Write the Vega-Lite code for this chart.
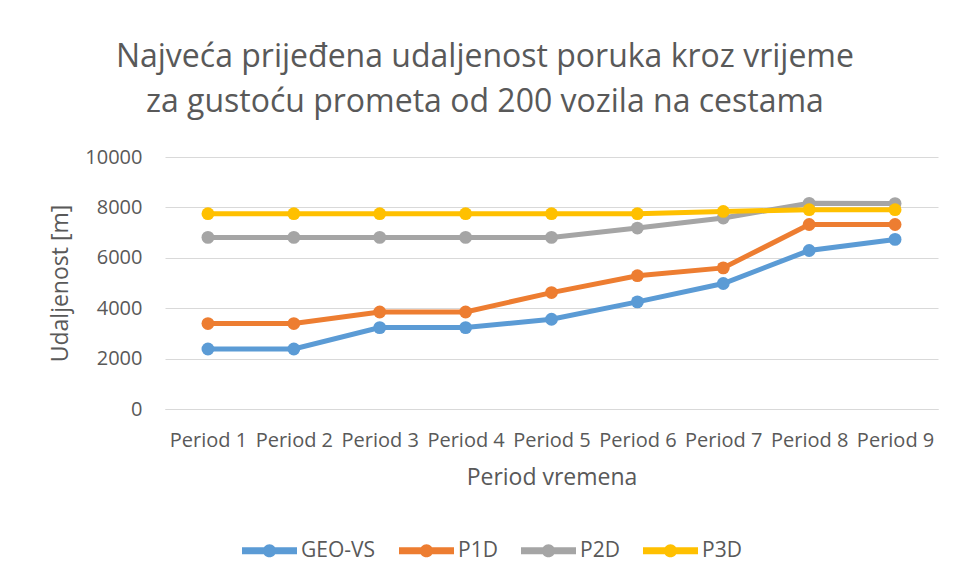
{
  "$schema": "https://vega.github.io/schema/vega-lite/v6.json",
  "width": 773,
  "height": 252,
  "autosize": {"type": "none"},
  "padding": {"left": 165, "top": 157, "right": 18, "bottom": 171},
  "background": "white",
  "title": {
    "text": ["Najveća prijeđena udaljenost poruka kroz vrijeme", "za gustoću prometa od 200 vozila na cestama"],
    "font": "Open Sans",
    "fontSize": 32,
    "fontWeight": 400,
    "color": "#595959",
    "lineHeight": 45,
    "anchor": "middle",
    "frame": "bounds",
    "offset": 28,
    "dx": -9
  },
  "data": {
    "values": [
      {"period": "Period 1", "series": "GEO-VS", "value": 2380},
      {"period": "Period 2", "series": "GEO-VS", "value": 2380},
      {"period": "Period 3", "series": "GEO-VS", "value": 3230},
      {"period": "Period 4", "series": "GEO-VS", "value": 3230},
      {"period": "Period 5", "series": "GEO-VS", "value": 3560},
      {"period": "Period 6", "series": "GEO-VS", "value": 4250},
      {"period": "Period 7", "series": "GEO-VS", "value": 4980},
      {"period": "Period 8", "series": "GEO-VS", "value": 6290},
      {"period": "Period 9", "series": "GEO-VS", "value": 6730},
      {"period": "Period 1", "series": "P1D", "value": 3390},
      {"period": "Period 2", "series": "P1D", "value": 3390},
      {"period": "Period 3", "series": "P1D", "value": 3850},
      {"period": "Period 4", "series": "P1D", "value": 3850},
      {"period": "Period 5", "series": "P1D", "value": 4620},
      {"period": "Period 6", "series": "P1D", "value": 5290},
      {"period": "Period 7", "series": "P1D", "value": 5600},
      {"period": "Period 8", "series": "P1D", "value": 7320},
      {"period": "Period 9", "series": "P1D", "value": 7320},
      {"period": "Period 1", "series": "P2D", "value": 6810},
      {"period": "Period 2", "series": "P2D", "value": 6810},
      {"period": "Period 3", "series": "P2D", "value": 6810},
      {"period": "Period 4", "series": "P2D", "value": 6810},
      {"period": "Period 5", "series": "P2D", "value": 6810},
      {"period": "Period 6", "series": "P2D", "value": 7180},
      {"period": "Period 7", "series": "P2D", "value": 7580},
      {"period": "Period 8", "series": "P2D", "value": 8160},
      {"period": "Period 9", "series": "P2D", "value": 8150},
      {"period": "Period 1", "series": "P3D", "value": 7750},
      {"period": "Period 2", "series": "P3D", "value": 7750},
      {"period": "Period 3", "series": "P3D", "value": 7750},
      {"period": "Period 4", "series": "P3D", "value": 7750},
      {"period": "Period 5", "series": "P3D", "value": 7750},
      {"period": "Period 6", "series": "P3D", "value": 7750},
      {"period": "Period 7", "series": "P3D", "value": 7840},
      {"period": "Period 8", "series": "P3D", "value": 7910},
      {"period": "Period 9", "series": "P3D", "value": 7910}
    ]
  },
  "mark": {
    "type": "line",
    "strokeWidth": 5,
    "point": {"filled": true, "size": 165, "opacity": 1}
  },
  "encoding": {
    "x": {
      "field": "period",
      "type": "ordinal",
      "sort": ["Period 1", "Period 2", "Period 3", "Period 4", "Period 5", "Period 6", "Period 7", "Period 8", "Period 9"],
      "scale": {"padding": 0.5},
      "axis": {
        "title": "Period vremena",
        "labelAngle": 0,
        "ticks": false,
        "domain": true,
        "domainColor": "#d9d9d9",
        "domainWidth": 1,
        "grid": false,
        "labelPadding": 21,
        "labelFont": "Open Sans",
        "labelFontSize": 20,
        "labelColor": "#595959",
        "titleFont": "Open Sans",
        "titleFontSize": 23,
        "titleFontWeight": 400,
        "titleColor": "#595959",
        "titlePadding": 16
      }
    },
    "y": {
      "field": "value",
      "type": "quantitative",
      "scale": {"domain": [0, 10000], "nice": false},
      "axis": {
        "title": "Udaljenost [m]",
        "values": [0, 2000, 4000, 6000, 8000, 10000],
        "format": "d",
        "ticks": false,
        "domain": false,
        "grid": true,
        "gridColor": "#d9d9d9",
        "gridWidth": 1,
        "labelPadding": 23,
        "labelFont": "Open Sans",
        "labelFontSize": 20,
        "labelColor": "#595959",
        "titleFont": "Open Sans",
        "titleFontSize": 23,
        "titleFontWeight": 400,
        "titleColor": "#595959",
        "titlePadding": 12
      }
    },
    "color": {
      "field": "series",
      "type": "nominal",
      "scale": {
        "domain": ["GEO-VS", "P1D", "P2D", "P3D"],
        "range": ["#5b9bd5", "#ed7d31", "#a5a5a5", "#ffc000"]
      },
      "legend": {
        "title": null,
        "orient": "none",
        "direction": "horizontal",
        "legendX": 77,
        "legendY": 366,
        "symbolType": "M-1,-0.13H1V0.13H-1Z M0.24,0A0.24,0.24 0 1,1 -0.24,0A0.24,0.24 0 1,1 0.24,0Z",
        "symbolSize": 3025,
        "symbolStrokeWidth": 0,
        "labelFont": "Open Sans",
        "labelFontSize": 21,
        "labelColor": "#595959",
        "labelOffset": 4,
        "columnPadding": 23,
        "encode": {
          "symbols": {
            "update": {
              "fill": {"scale": "color", "field": "value"},
              "opacity": {"value": 1}
            }
          }
        }
      }
    }
  },
  "config": {
    "view": {"stroke": null}
  }
}
